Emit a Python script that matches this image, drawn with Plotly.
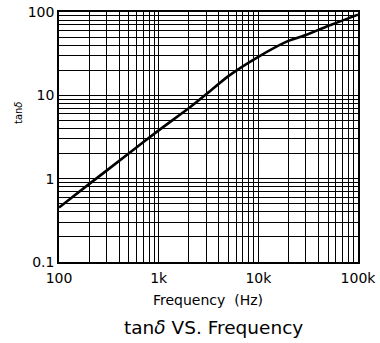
import plotly.graph_objects as go

freq_hz = [100, 200, 500, 1000, 2000, 3000, 5000, 10000, 20000, 30000, 50000, 100000]
tan_delta = [0.45, 0.86, 2.0, 3.8, 7.0, 10.3, 17, 29, 45, 53, 68, 93]

x_decades = [100, 1000, 10000, 100000]
x_decade_labels = ["100", "1k", "10k", "100k"]
y_decades = [0.1, 1, 10, 100]
y_decade_labels = ["0.1", "1", "10", "100"]


def log_ticks(decades, labels):
    vals, texts = [], []
    for i, d in enumerate(decades):
        vals.append(d)
        texts.append(labels[i])
        if i < len(decades) - 1:
            for m in range(2, 10):
                vals.append(d * m)
                texts.append("")
    return vals, texts


xv, xt = log_ticks(x_decades, x_decade_labels)
yv, yt = log_ticks(y_decades, y_decade_labels)

fig = go.Figure()
fig.add_trace(go.Scatter(
    x=freq_hz, y=tan_delta, mode="lines",
    line=dict(color="black", width=2.6, shape="spline", smoothing=0.6),
    showlegend=False, hoverinfo="skip",
))

font = dict(family="DejaVu Sans, sans-serif", color="black")

fig.update_xaxes(
    type="log", range=[2, 5], tickvals=xv, ticktext=xt,
    showgrid=True, gridcolor="black", gridwidth=1,
    showline=True, linecolor="black", linewidth=1.5, mirror=True,
    ticks="", tickfont=dict(size=14, **font), zeroline=False, automargin=False,
    ticklabeloverflow="allow", ticklabelstandoff=2,
)
fig.update_yaxes(
    type="log", range=[-1, 2], tickvals=yv, ticktext=yt,
    showgrid=True, gridcolor="black", gridwidth=1,
    showline=True, linecolor="black", linewidth=1.5, mirror=True,
    ticks="", tickfont=dict(size=14, **font), zeroline=False, automargin=False,
    ticklabeloverflow="allow",
)

# axis titles and chart title placed as annotations
fig.add_annotation(
    text="Frequency  (Hz)", xref="paper", yref="paper",
    x=0.497, y=-0.152, xanchor="center", yanchor="middle", showarrow=False,
    font=dict(size=14, **font),
)
fig.add_annotation(
    text="tan<i>δ</i>", xref="paper", yref="paper",
    x=-0.137, y=0.596, xanchor="center", yanchor="middle", showarrow=False,
    textangle=-90, font=dict(size=10, **font),
)
fig.add_annotation(
    text="tan<i>δ</i> VS. Frequency", xref="paper", yref="paper",
    x=0.518, y=-0.262, xanchor="center", yanchor="middle", showarrow=False,
    font=dict(size=18.5, **font),
)

fig.update_layout(
    width=380, height=343,
    margin=dict(l=59, r=22, t=12, b=81, autoexpand=False),
    paper_bgcolor="white", plot_bgcolor="white",
)

fig.write_html(
    "out.html",
    config={"displayModeBar": False},
    post_script="document.body.style.margin='0';document.body.style.overflow='hidden';",
)
